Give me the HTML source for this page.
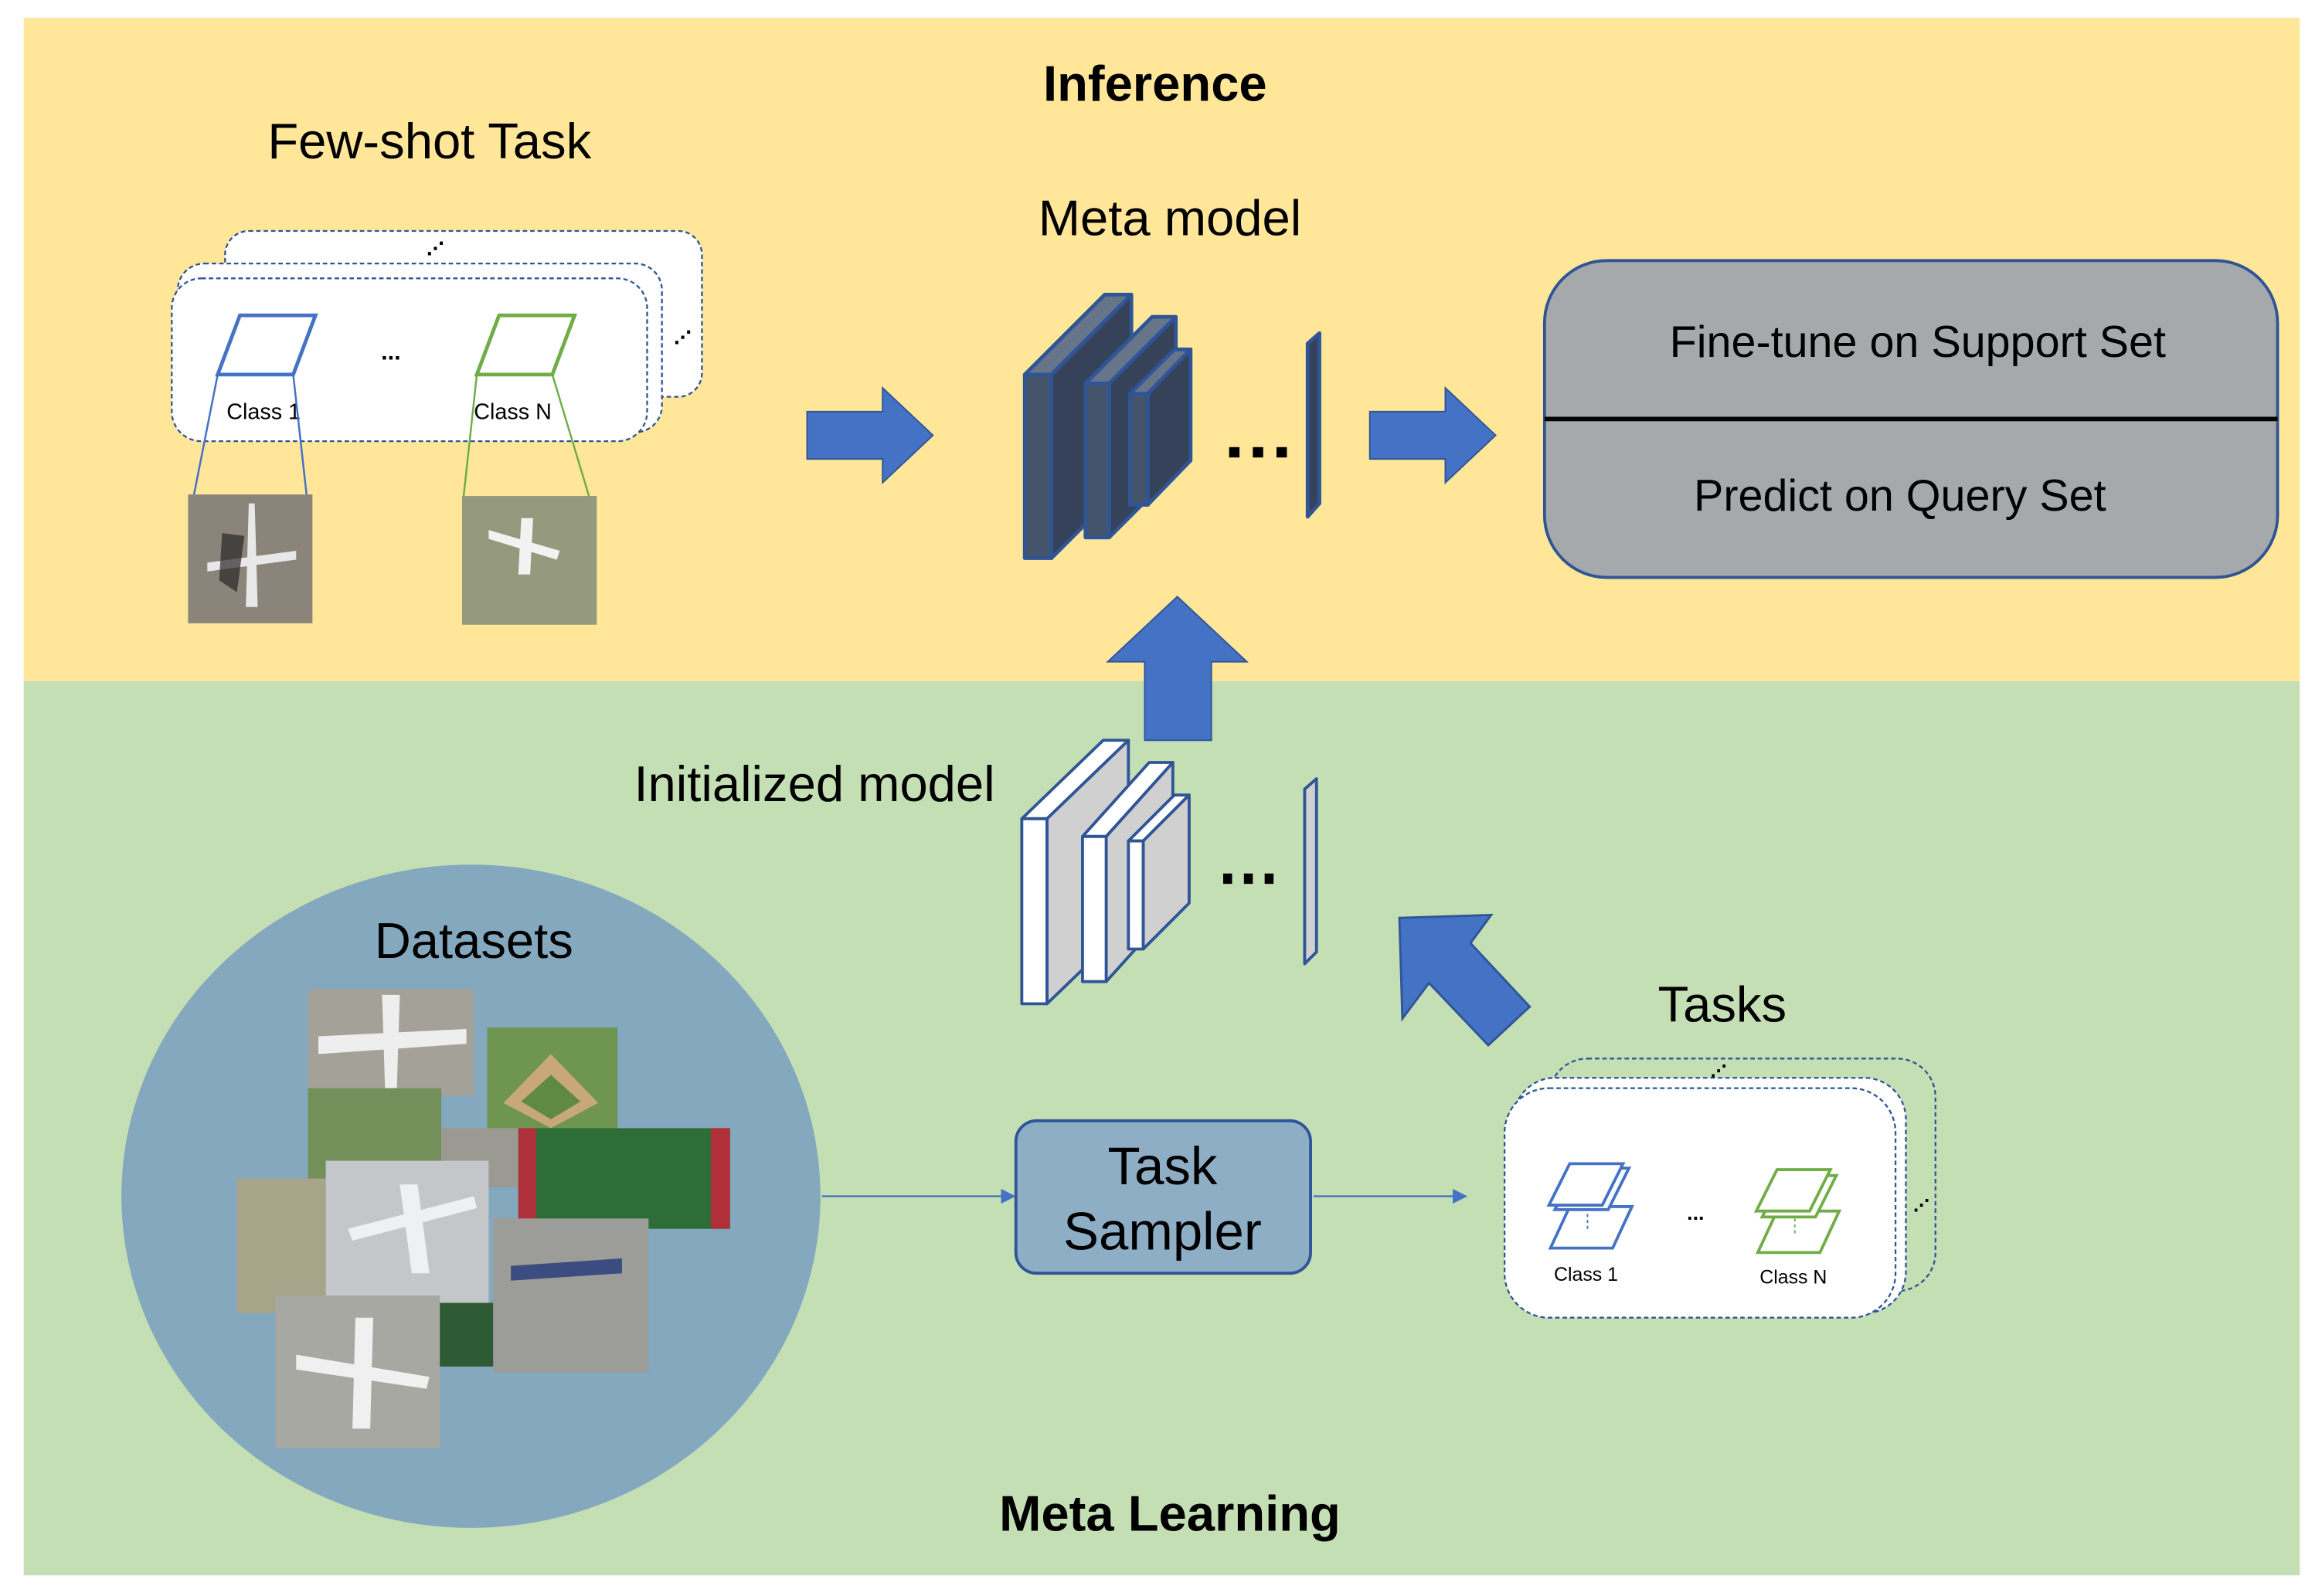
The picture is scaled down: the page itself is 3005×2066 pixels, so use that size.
<!DOCTYPE html>
<html><head><meta charset="utf-8"><style>
html,body{margin:0;padding:0;background:#fff;}
svg{display:block;}
text{font-family:"Liberation Sans","DejaVu Sans",sans-serif;}
</style></head><body>
<svg width="3005" height="2066" viewBox="0 0 1568 1078" preserveAspectRatio="none" xmlns="http://www.w3.org/2000/svg">
<defs>
<marker id="ah" markerWidth="10" markerHeight="10" refX="9" refY="5" orient="auto" markerUnits="userSpaceOnUse"><path d="M0,0 L10,5 L0,10 z" fill="#4472C4"/></marker>
</defs>
<rect x="0" y="0" width="1568" height="1078" fill="#fff"/>
<rect x="16" y="12" width="1537" height="448" fill="#FFE699"/>
<rect x="16" y="460" width="1537" height="604" fill="#C5DFB5"/>

<text x="780" y="68" font-size="34" font-weight="bold" text-anchor="middle">Inference</text>
<text x="290" y="107" font-size="34" text-anchor="middle">Few-shot Task</text>
<text x="790" y="159" font-size="34" text-anchor="middle">Meta model</text>

<rect x="152" y="156" width="322" height="112" rx="16" fill="#fff" stroke="#2F5597" stroke-dasharray="3,2" stroke-width="1.2"/>
<rect x="120" y="178" width="327" height="114" rx="18" fill="#fff" stroke="#2F5597" stroke-dasharray="3,2" stroke-width="1.2"/>
<rect x="116" y="188" width="321" height="110" rx="20" fill="#fff" stroke="#2F5597" stroke-dasharray="3,2" stroke-width="1.2"/>
<text x="288" y="172" font-size="12" font-weight="bold">⋰</text>
<text x="455" y="232" font-size="12" font-weight="bold">⋰</text>
<polygon points="147,253 162,213 213,213 198,253" fill="none" stroke="#4472C4" stroke-width="2.5"/>
<polygon points="322,253 337,213 388,213 373,253" fill="none" stroke="#70AD47" stroke-width="2.5"/>
<text x="264" y="243" font-size="16" font-weight="bold" text-anchor="middle">...</text>
<text x="153" y="283" font-size="15">Class 1</text>
<text x="320" y="283" font-size="15">Class N</text>
<line x1="147" y1="253" x2="131" y2="334" stroke="#4472C4" stroke-width="1.3"/>
<line x1="198" y1="253" x2="207" y2="334" stroke="#4472C4" stroke-width="1.3"/>
<line x1="322" y1="253" x2="313" y2="336" stroke="#70AD47" stroke-width="1.3"/>
<line x1="373" y1="253" x2="398" y2="336" stroke="#70AD47" stroke-width="1.3"/>
<rect x="127" y="334" width="84" height="87" fill="#8a847a"/>
<path d="M168,340 L172,340 L174,410 L166,410 Z M140,380 L200,372 L200,378 L140,386 Z" fill="#e8e8e8"/>
<path d="M150,360 L165,362 L160,400 L148,392 Z" fill="#2a2626" opacity="0.7"/>
<rect x="312" y="335" width="91" height="87" fill="#959a7e"/>
<path d="M330,358 L378,372 L376,378 L330,364 Z M352,350 L360,350 L358,388 L350,388 Z" fill="#f2f2f2"/>

<polygon points="545,278 596,278 596,262 630,294 596,326 596,310 545,310" fill="#4472C4" stroke="#2F5597" stroke-width="1"/>
<polygon points="925,278 976,278 976,262 1010,294 976,326 976,310 925,310" fill="#4472C4" stroke="#2F5597" stroke-width="1"/>

<g stroke="#2F5597" stroke-width="2.5" stroke-linejoin="round">
<polygon points="692,253 746,199 764,199 710,253" fill="#67758A"/>
<polygon points="710,253 764,199 764,323 710,377" fill="#36425A"/>
<rect x="692" y="253" width="18" height="124" fill="#44546A"/>
<polygon points="733,259 778,214 794,214 749,259" fill="#67758A"/>
<polygon points="749,259 794,214 794,318 749,363" fill="#36425A"/>
<rect x="733" y="259" width="16" height="104" fill="#44546A"/>
<polygon points="763,266 793,236 804,236 775,266" fill="#67758A"/>
<polygon points="775,266 804,236 804,311 775,341" fill="#36425A"/>
<rect x="763" y="266" width="12" height="75" fill="#44546A"/>
<polygon points="883,232 891,225 891,340 883,349" fill="#36425A"/>
</g>
<rect x="830" y="302" width="7" height="7" fill="#000"/><rect x="846" y="302" width="7" height="7" fill="#000"/><rect x="862" y="302" width="7" height="7" fill="#000"/>

<rect x="1043" y="176" width="495" height="214" rx="42" fill="#A5A9AB" stroke="#2F5597" stroke-width="2"/>
<line x1="1043" y1="283" x2="1538" y2="283" stroke="#000" stroke-width="3"/>
<text x="1295" y="241" font-size="30" text-anchor="middle">Fine-tune on Support Set</text>
<text x="1283" y="345" font-size="30" text-anchor="middle">Predict on Query Set</text>

<polygon points="773,500 773,447 748,447 795,403 842,447 818,447 818,500" fill="#4472C4" stroke="#2F5597" stroke-width="1"/>

<text x="550" y="541" font-size="34" text-anchor="middle">Initialized model</text>

<g stroke="#2F5597" stroke-width="2" stroke-linejoin="round">
<polygon points="690,553 745,500 762,500 707,553" fill="#fff"/>
<polygon points="707,553 762,500 762,625 707,678" fill="#D0D0D0"/>
<rect x="690" y="553" width="17" height="125" fill="#fff"/>
<polygon points="731,565 776,515 792,515 747,565" fill="#fff"/>
<polygon points="747,565 792,515 792,613 747,663" fill="#D0D0D0"/>
<rect x="731" y="565" width="16" height="98" fill="#fff"/>
<polygon points="762,568 793,537 803,537 772,568" fill="#fff"/>
<polygon points="772,568 803,537 803,610 772,641" fill="#D0D0D0"/>
<rect x="762" y="568" width="10" height="73" fill="#fff"/>
<polygon points="881,533 889,526 889,643 881,651" fill="#D0D0D0"/>
</g>
<rect x="826" y="590" width="6" height="7" fill="#000"/><rect x="840" y="590" width="6" height="7" fill="#000"/><rect x="854" y="590" width="6" height="7" fill="#000"/>

<polygon points="945,620 1007,618 993,637 1033,680 1005,706 965,664 947,688" fill="#4472C4" stroke="#2F5597" stroke-width="1.5"/>

<text x="1163" y="690" font-size="34" text-anchor="middle">Tasks</text>

<ellipse cx="318" cy="808" rx="236" ry="224" fill="#84A8BE"/>
<text x="320" y="647" font-size="34" text-anchor="middle">Datasets</text>
<rect x="208" y="668" width="112" height="72" fill="#a4a298"/>
<path d="M215,700 L315,695 L315,705 L215,712 Z M258,672 L270,672 L268,735 L260,735 Z" fill="#eee"/>
<rect x="329" y="694" width="88" height="71" fill="#6e9650"/>
<polygon points="340,745 372,712 404,745 372,762" fill="#c8a878"/>
<polygon points="352,744 372,726 392,744 372,756" fill="#5e8a44"/>
<rect x="208" y="735" width="90" height="65" fill="#74905a"/>
<rect x="298" y="762" width="62" height="40" fill="#9a9a92"/>
<rect x="350" y="762" width="143" height="68" fill="#2e6c38"/>
<rect x="480" y="762" width="13" height="68" fill="#b0303a"/>
<rect x="350" y="762" width="12" height="68" fill="#b0303a"/>
<rect x="160" y="796" width="62" height="91" fill="#a8a48a"/>
<rect x="220" y="784" width="110" height="104" fill="#c4c6ca"/>
<path d="M235,830 L320,808 L322,816 L238,838 Z M270,800 L282,800 L290,860 L278,860 Z" fill="#eef0f2"/>
<rect x="291" y="880" width="44" height="43" fill="#2e5a34"/>
<rect x="186" y="875" width="111" height="103" fill="#a8a8a2"/>
<path d="M200,915 L290,930 L288,938 L200,925 Z M240,890 L252,890 L250,965 L238,965 Z" fill="#f0f0f0"/>
<rect x="333" y="823" width="105" height="104" fill="#9c9c98"/>
<path d="M345,855 L420,850 L420,860 L345,865 Z" fill="#3a4c80"/>

<line x1="555" y1="808" x2="685" y2="808" stroke="#4472C4" stroke-width="1.2" marker-end="url(#ah)"/>
<rect x="686" y="757" width="199" height="103" rx="14" fill="#8EAEC6" stroke="#2F5597" stroke-width="2"/>
<text x="785" y="800" font-size="36" text-anchor="middle">Task</text>
<text x="785" y="844" font-size="36" text-anchor="middle">Sampler</text>
<line x1="887" y1="808" x2="990" y2="808" stroke="#4472C4" stroke-width="1.2" marker-end="url(#ah)"/>

<rect x="1046" y="715" width="261" height="157" rx="26" fill="none" stroke="#2F5597" stroke-dasharray="3,2" stroke-width="1.2"/>
<rect x="1022" y="728" width="265" height="159" rx="28" fill="#fff" stroke="#2F5597" stroke-dasharray="3,2" stroke-width="1.2"/>
<rect x="1016" y="735" width="264" height="155" rx="30" fill="#fff" stroke="#2F5597" stroke-dasharray="3,2" stroke-width="1.2"/>
<text x="1155" y="727" font-size="11" font-weight="bold">⋰</text>
<text x="1292" y="818" font-size="11" font-weight="bold">⋰</text>
<g fill="#fff" stroke-width="2">
<polygon points="1047,843 1060,815 1102,815 1089,843" stroke="#4472C4"/>
<polygon points="1050,817 1064,789 1100,789 1086,817" stroke="#4472C4"/>
<polygon points="1046,814 1060,786 1096,786 1082,814" stroke="#4472C4"/>
<polygon points="1187,846 1200,818 1242,818 1229,846" stroke="#70AD47"/>
<polygon points="1190,822 1204,794 1240,794 1226,822" stroke="#70AD47"/>
<polygon points="1186,818 1200,790 1236,790 1222,818" stroke="#70AD47"/>
</g>
<line x1="1072" y1="820" x2="1072" y2="830" stroke="#4472C4" stroke-dasharray="2,2"/>
<line x1="1212" y1="823" x2="1212" y2="833" stroke="#70AD47" stroke-dasharray="2,2"/>
<text x="1145" y="824" font-size="14" font-weight="bold" text-anchor="middle">...</text>
<text x="1071" y="865" font-size="13" text-anchor="middle">Class 1</text>
<text x="1211" y="867" font-size="13" text-anchor="middle">Class N</text>

<text x="790" y="1034" font-size="34" font-weight="bold" text-anchor="middle">Meta Learning</text>
</svg>
</body></html>
